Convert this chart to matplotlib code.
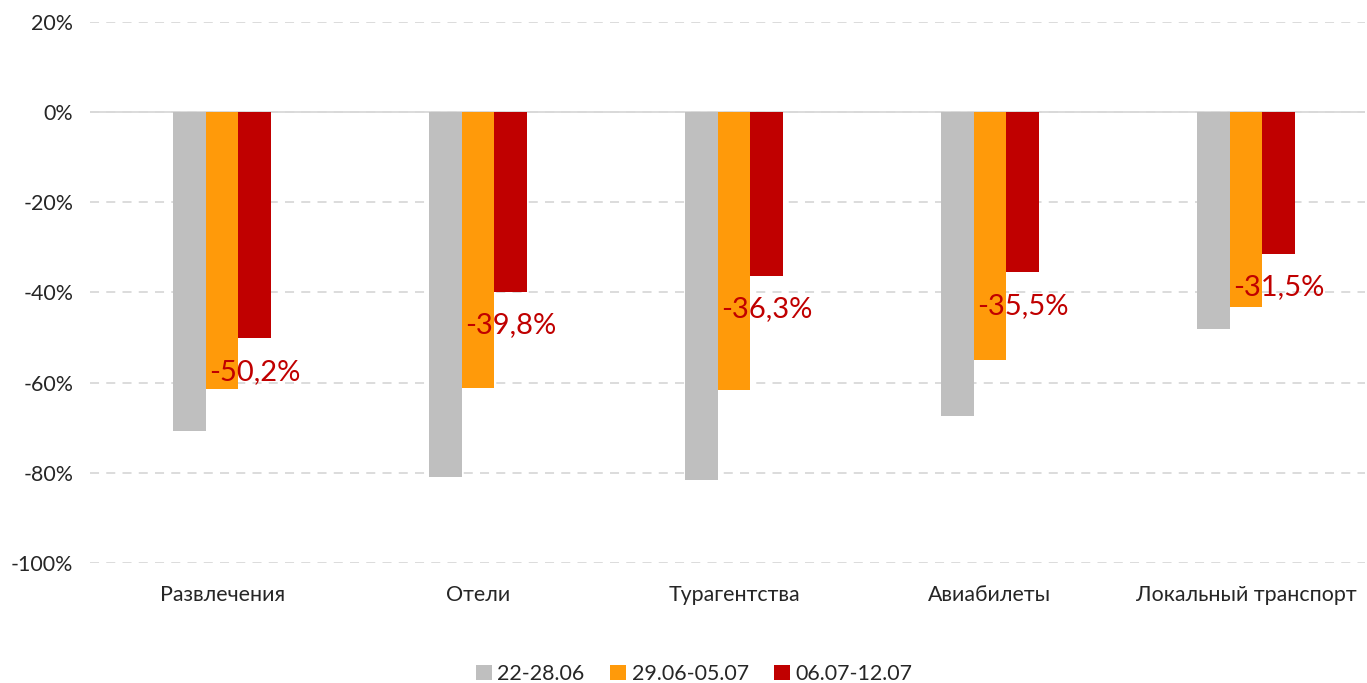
import numpy as np
import matplotlib.pyplot as plt
from matplotlib.ticker import FuncFormatter

plt.rcParams['font.family'] = ['Lato', 'DejaVu Sans']

categories = ['Развлечения', 'Отели', 'Турагентства', 'Авиабилеты', 'Локальный транспорт']
series_names = ['22-28.06', '29.06-05.07', '06.07-12.07']
week1 = [-70.8, -80.9, -81.6, -67.3, -48.2]
week2 = [-61.5, -61.2, -61.6, -55.0, -43.2]
week3 = [-50.2, -39.8, -36.3, -35.5, -31.5]
colors = ['#BFBFBF', '#FF9A0A', '#C00000']

fig = plt.figure(figsize=(13.67, 6.83), dpi=100)
ax = fig.add_axes([90 / 1367, (683 - 563) / 683, 1275 / 1367, 541 / 683])

x = np.arange(len(categories))
w = 0.128
for i, (vals, name) in enumerate(zip([week1, week2, week3], series_names)):
    ax.bar(x + (i - 1) * w, vals, width=w, color=colors[i], label=name, zorder=3)

# labels for the last week
for xi, v in zip(x, week3):
    ax.text(xi + w, v - 7.4, f'{v:.1f}%'.replace('.', ','), ha='center', va='center',
            fontsize=21, color='#C00000', zorder=4)

ax.set_ylim(-100, 20)
ax.set_xlim(-0.516, 4.465)
ax.set_yticks(np.arange(-100, 21, 20))
ax.yaxis.set_major_formatter(FuncFormatter(lambda v, p: f'{v:.0f}%'))
ax.grid(axis='y', color='#D9D9D9', linestyle=(0, (5, 4)), linewidth=1.3, zorder=0)
ax.axhline(0, color='#D9D9D9', linewidth=1.3, zorder=1)
ax.set_xticks(x)
ax.set_xticklabels(categories)
for s in ax.spines.values():
    s.set_visible(False)
ax.tick_params(axis='both', length=0, labelsize=15.4, colors='#262626')
ax.tick_params(axis='x', pad=16)
ax.tick_params(axis='y', pad=12)

ax.legend(loc='center', bbox_to_anchor=(0.474, -0.205), ncol=3, frameon=False,
          fontsize=15.4, handlelength=0.75, handleheight=0.75, handletextpad=0.25,
          columnspacing=1.2, labelcolor='#262626')

fig.savefig('out.png', dpi=100)
